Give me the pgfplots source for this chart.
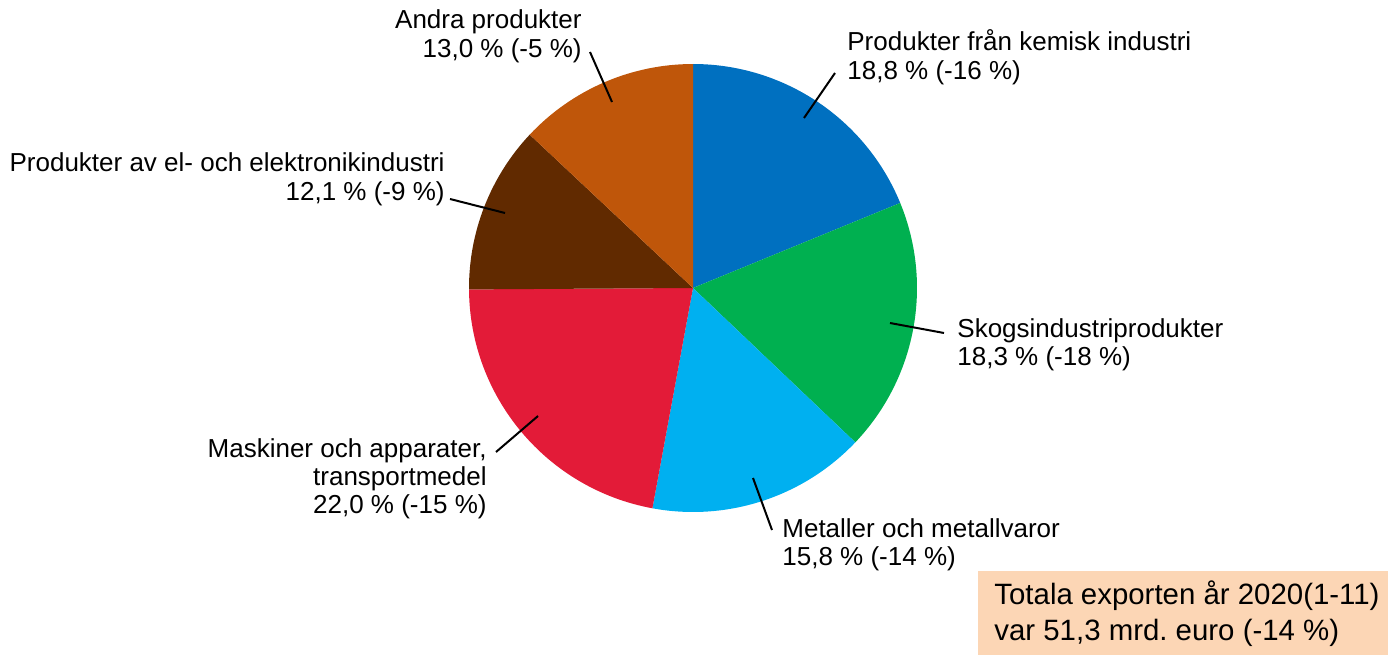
\documentclass[border=0pt]{standalone}
\usepackage{fontspec}
\setmainfont{Liberation Sans}
\usepackage{pgfplots}
\pgfplotsset{compat=1.18}
\frenchspacing

\definecolor{kem}{HTML}{0070C0}
\definecolor{skog}{HTML}{00B050}
\definecolor{met}{HTML}{00B0F0}
\definecolor{mask}{HTML}{E31B38}
\definecolor{elek}{HTML}{612A00}
\definecolor{andra}{HTML}{BF560A}
\definecolor{peach}{HTML}{FCD6B5}

% one line of a label, placed on its baseline
\newcommand{\lbl}[4]{\node[anchor=base #3, inner sep=0pt,
  font=\fontsize{13}{15}\selectfont] at (axis cs:#1,#2) {#4};}

\begin{document}
\begin{tikzpicture}
\begin{axis}[
  x=0.5pt, y=0.5pt,
  xmin=0, xmax=1388, ymin=0, ymax=655,
  hide axis, clip=false,
]
\path (axis cs:0,0) rectangle (axis cs:1388,655);

% slices, clockwise from 12 o'clock (share in %)
\xdef\acc{90}
\foreach \p/\c in {18.8/kem, 18.3/skog, 15.8/met, 22.0/mask, 12.1/elek, 13.0/andra}{
  \pgfmathsetmacro\b{\acc-3.6*\p}
  \edef\temp{\noexpand\fill[\c] (axis cs:693,367) -- ++(\acc:112pt)
    arc[start angle=\acc, end angle=\b, radius=112pt] -- cycle;}
  \temp
  \xdef\acc{\b}
}

% leader lines
\draw[line width=1pt] (axis cs:590,603) -- (axis cs:612,553);
\draw[line width=1pt] (axis cs:835,582) -- (axis cs:804,537);
\draw[line width=1pt] (axis cs:944,322) -- (axis cs:890,332);
\draw[line width=1pt] (axis cs:772,125) -- (axis cs:753,177);
\draw[line width=1pt] (axis cs:496,203) -- (axis cs:538,239);
\draw[line width=1pt] (axis cs:450,456) -- (axis cs:505,442);

% labels
\lbl{582}{626}{east}{Andra produkter}
\lbl{582}{597}{east}{13,0 \% (-5 \%)}
\lbl{847}{604}{west}{Produkter från kemisk industri}
\lbl{847}{575}{west}{18,8 \% (-16 \%)}
\lbl{957}{318}{west}{Skogsindustriprodukter}
\lbl{957}{290}{west}{18,3 \% (-18 \%)}
\lbl{782}{118}{west}{Metaller och metallvaror}
\lbl{782}{90}{west}{15,8 \% (-14 \%)}
\lbl{487}{198}{east}{Maskiner och apparater,}
\lbl{487}{170}{east}{transportmedel}
\lbl{487}{142}{east}{22,0 \% (-15 \%)}
\lbl{445}{483}{east}{Produkter av el- och elektronikindustri}
\lbl{445}{455}{east}{12,1 \% (-9 \%)}

% total box
\fill[peach] (axis cs:978,0) rectangle (axis cs:1388,84);
\node[anchor=base west, inner sep=0pt, font=\fontsize{14.7}{18}\selectfont]
  at (axis cs:994,51) {Totala exporten år 2020(1-11)};
\node[anchor=base west, inner sep=0pt, font=\fontsize{14.7}{18}\selectfont]
  at (axis cs:994,15) {var 51,3 mrd. euro (-14 \%)};
\end{axis}
\end{tikzpicture}
\end{document}
